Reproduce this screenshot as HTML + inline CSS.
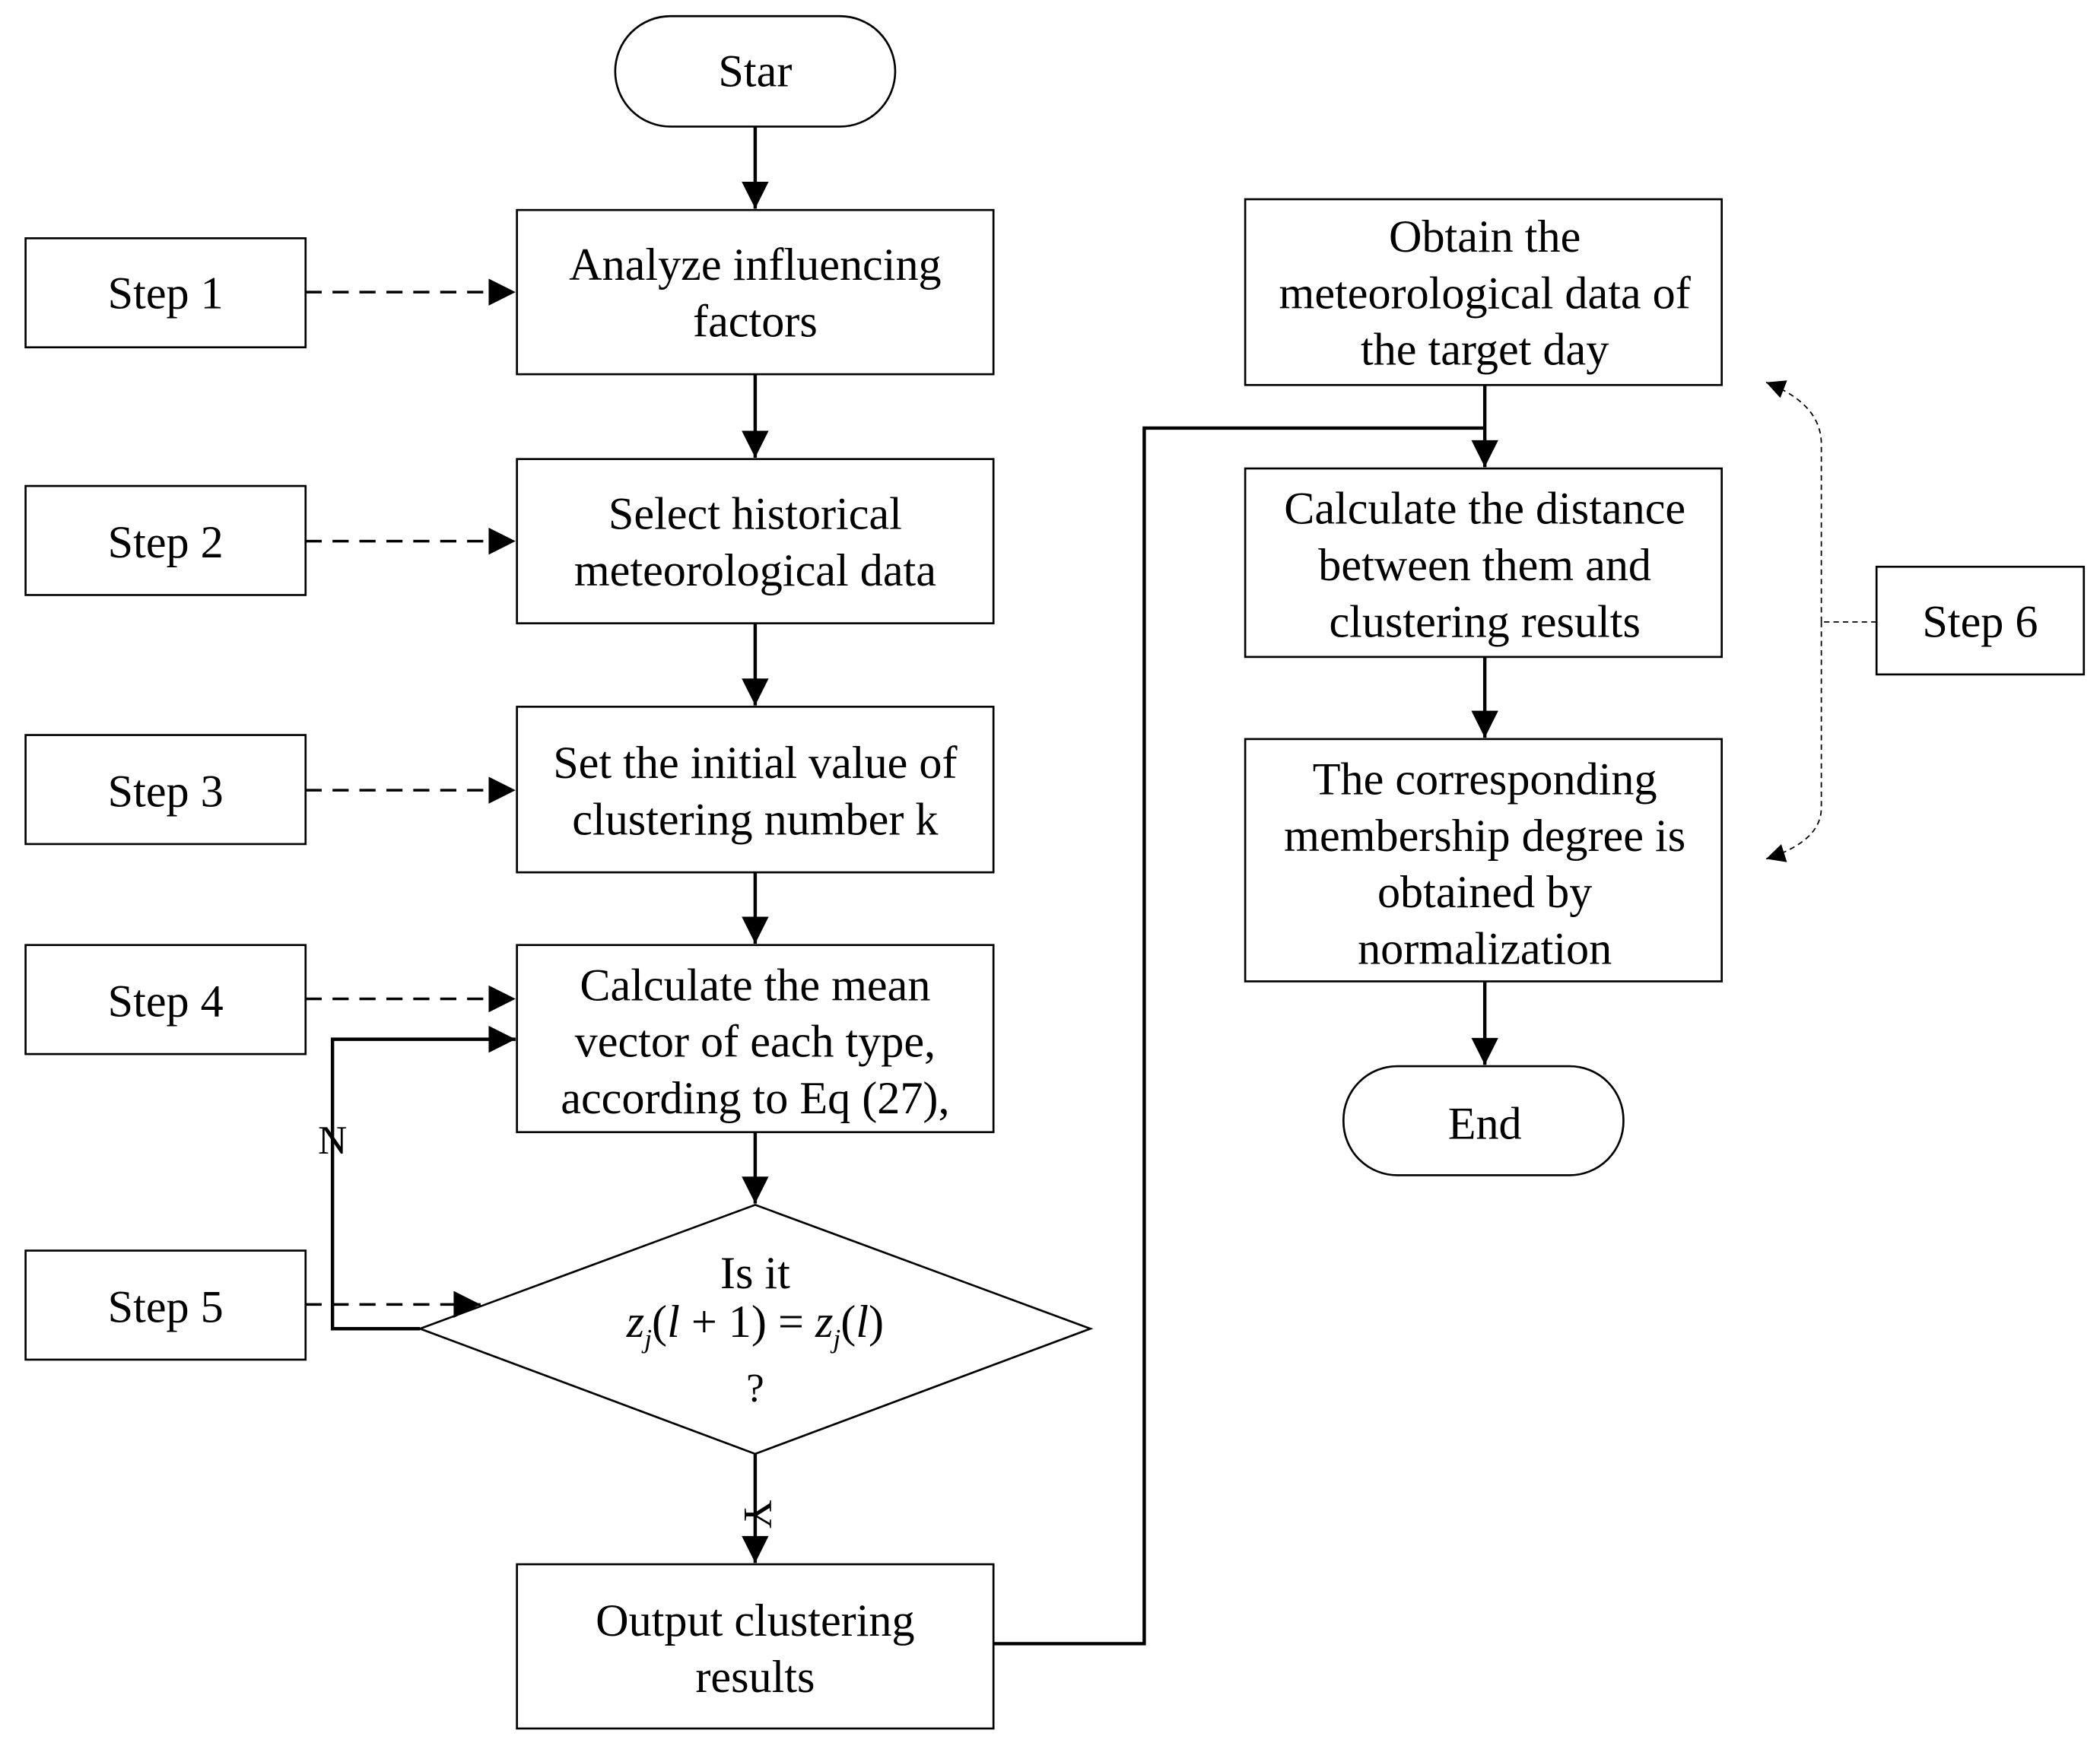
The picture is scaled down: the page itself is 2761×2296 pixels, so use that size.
<!DOCTYPE html>
<html><head><style>html,body{margin:0;padding:0;background:#fff}svg{display:block}</style></head>
<body>
<svg width="2761" height="2296" viewBox="0 0 1560 1297" preserveAspectRatio="none" xmlns="http://www.w3.org/2000/svg" font-family="Liberation Serif, serif" font-size="34" text-anchor="middle">
<defs>
<marker id="b" viewBox="0 0 10 10" refX="10" refY="5" markerWidth="28" markerHeight="20" orient="auto" markerUnits="userSpaceOnUse"><path d="M0,0L10,5L0,10z" fill="#000"/></marker>
<marker id="c" viewBox="0 0 10 10" refX="10" refY="5" markerWidth="18" markerHeight="14" orient="auto" markerUnits="userSpaceOnUse"><path d="M0,0L10,5L0,10z" fill="#000"/></marker>
</defs>
<g fill="none" stroke="#000" stroke-width="1.5">
<rect x="457" y="12" width="208" height="82" rx="41"/>
<rect x="384" y="156" width="354" height="122"/>
<rect x="384" y="341" width="354" height="122"/>
<rect x="384" y="525" width="354" height="123"/>
<rect x="384" y="702" width="354" height="139"/>
<polygon points="561,895 810,987 561,1080 312,987"/>
<rect x="384" y="1162" width="354" height="122"/>
<rect x="19" y="177" width="208" height="81"/>
<rect x="19" y="361" width="208" height="81"/>
<rect x="19" y="546" width="208" height="81"/>
<rect x="19" y="702" width="208" height="81"/>
<rect x="19" y="929" width="208" height="81"/>
<rect x="925" y="148" width="354" height="138"/>
<rect x="925" y="348" width="354" height="140"/>
<rect x="925" y="549" width="354" height="180"/>
<rect x="998" y="792" width="208" height="81" rx="40"/>
<rect x="1394" y="421" width="154" height="80"/>
</g>
<g fill="none" stroke="#000" stroke-width="2.5">
<line x1="561" y1="94" x2="561" y2="155" marker-end="url(#b)"/>
<line x1="561" y1="278" x2="561" y2="340" marker-end="url(#b)"/>
<line x1="561" y1="463" x2="561" y2="524" marker-end="url(#b)"/>
<line x1="561" y1="648" x2="561" y2="701" marker-end="url(#b)"/>
<line x1="561" y1="841" x2="561" y2="894" marker-end="url(#b)"/>
<line x1="561" y1="1080" x2="561" y2="1161" marker-end="url(#b)"/>
<polyline points="312,987 247,987 247,772 383,772" marker-end="url(#b)"/>
<polyline points="738,1221 850,1221 850,318 1103,318"/>
<line x1="1103" y1="286" x2="1103" y2="347" marker-end="url(#b)"/>
<line x1="1103" y1="488" x2="1103" y2="548" marker-end="url(#b)"/>
<line x1="1103" y1="729" x2="1103" y2="791" marker-end="url(#b)"/>
</g>
<g fill="none" stroke="#000" stroke-width="2" stroke-dasharray="12,8">
<line x1="227" y1="217" x2="383" y2="217" marker-end="url(#b)"/>
<line x1="227" y1="402" x2="383" y2="402" marker-end="url(#b)"/>
<line x1="227" y1="587" x2="383" y2="587" marker-end="url(#b)"/>
<line x1="227" y1="742" x2="383" y2="742" marker-end="url(#b)"/>
<line x1="227" y1="969" x2="357" y2="969" marker-end="url(#b)"/>
</g>
<g fill="none" stroke="#000" stroke-width="1" stroke-dasharray="4,3">
<line x1="1394" y1="462" x2="1353" y2="462"/>
<path d="M1353,462 L1353,330 Q1353,300 1312,284" marker-end="url(#c)"/>
<path d="M1353,462 L1353,600 Q1353,625 1312,638" marker-end="url(#c)"/>
</g>
<g fill="#000">
<text x="561" y="64">Star</text>
<text x="561" y="208">Analyze influencing</text><text x="561" y="250">factors</text>
<text x="561" y="393">Select historical</text><text x="561" y="435">meteorological data</text>
<text x="561" y="578">Set the initial value of</text><text x="561" y="620">clustering number k</text>
<text x="561" y="743">Calculate the mean</text><text x="561" y="785">vector of each type,</text><text x="561" y="827">according to Eq (27),</text>
<text x="561" y="957">Is it</text>
<text x="561" y="993"><tspan font-style="italic">z</tspan><tspan font-size="20" font-style="italic" dy="8">j</tspan><tspan dy="-8">(</tspan><tspan font-style="italic">l</tspan> + 1) = <tspan font-style="italic">z</tspan><tspan font-size="20" font-style="italic" dy="8">j</tspan><tspan dy="-8">(</tspan><tspan font-style="italic">l</tspan>)</text>
<text x="561" y="1041" font-size="30">?</text>
<text x="561" y="1215">Output clustering</text><text x="561" y="1257">results</text>
<text x="123" y="229">Step 1</text><text x="123" y="414">Step 2</text><text x="123" y="599">Step 3</text><text x="123" y="755">Step 4</text><text x="123" y="982">Step 5</text>
<text x="247" y="857" font-size="30">N</text>
<text x="563" y="1125" transform="rotate(90 563 1125)" dy="10" font-size="30">Y</text>
<text x="1103" y="187">Obtain the</text><text x="1103" y="229">meteorological data of</text><text x="1103" y="271">the target day</text>
<text x="1103" y="389">Calculate the distance</text><text x="1103" y="431">between them and</text><text x="1103" y="473">clustering results</text>
<text x="1103" y="590">The corresponding</text><text x="1103" y="632">membership degree is</text><text x="1103" y="674">obtained by</text><text x="1103" y="716">normalization</text>
<text x="1103" y="846">End</text>
<text x="1471" y="473">Step 6</text>
</g>
</svg>
</body></html>
